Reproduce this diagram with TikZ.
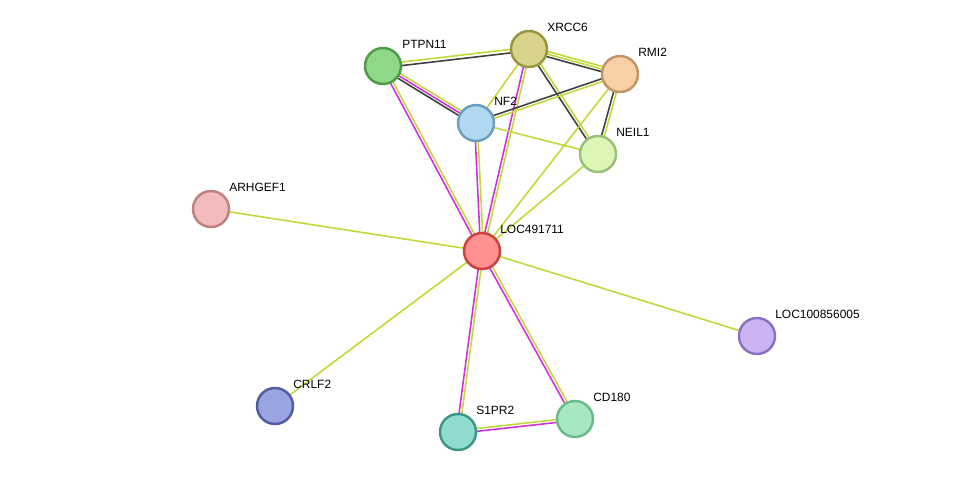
\documentclass[tikz,border=0pt]{standalone}
\usepackage{fontspec}
\setmainfont{Liberation Sans}
\usetikzlibrary{calc}
\definecolor{txtm}{HTML}{C0D838}
\definecolor{exper}{HTML}{D030D8}
\definecolor{coex}{HTML}{404040}
\definecolor{fPTPN11}{HTML}{8FD88A}\definecolor{dPTPN11}{HTML}{4F9A45}
\definecolor{fXRCC6}{HTML}{D8D38A}\definecolor{dXRCC6}{HTML}{99953E}
\definecolor{fRMI2}{HTML}{F9CFA5}\definecolor{dRMI2}{HTML}{C0956A}
\definecolor{fNF2}{HTML}{B0D8F2}\definecolor{dNF2}{HTML}{6D9CC0}
\definecolor{fNEIL1}{HTML}{DDF5B5}\definecolor{dNEIL1}{HTML}{99C07A}
\definecolor{fARHGEF1}{HTML}{F2BCBC}\definecolor{dARHGEF1}{HTML}{C08080}
\definecolor{fLOC491711}{HTML}{FF9090}\definecolor{dLOC491711}{HTML}{CC4040}
\definecolor{fLOC100856005}{HTML}{CCB4F2}\definecolor{dLOC100856005}{HTML}{8A70C0}
\definecolor{fCRLF2}{HTML}{9AA4E0}\definecolor{dCRLF2}{HTML}{525AA0}
\definecolor{fS1PR2}{HTML}{90DDD0}\definecolor{dS1PR2}{HTML}{3D958A}
\definecolor{fCD180}{HTML}{A8E8C0}\definecolor{dCD180}{HTML}{6CB98A}
\tikzset{
  prot/.style={circle, minimum size=36*0.02cm, inner sep=0pt, line width=1.4pt, fill=f#1, draw=d#1},
  lbl/.style={font=\fontsize{6.8}{8}\selectfont, anchor=south west, inner sep=0pt},
  edge/.style={line width=0.9pt}
}
% one strand of an edge, shifted sideways by #3
\newcommand{\strand}[4]{\draw[edge,#4] ($(#1)!#3!90:(#2)$) -- ($(#2)!#3!-90:(#1)$);}
\begin{document}
\begin{tikzpicture}[x=0.02cm,y=-0.02cm]
\useasboundingbox (0,0) rectangle (975,478);
% node positions
\coordinate (PTPN11) at (383,66);
\coordinate (XRCC6) at (529,49);
\coordinate (RMI2) at (620,74);
\coordinate (NF2) at (476,123);
\coordinate (NEIL1) at (598,154);
\coordinate (ARHGEF1) at (211,209);
\coordinate (LOC491711) at (482,251);
\coordinate (LOC100856005) at (757,336);
\coordinate (CRLF2) at (275,406);
\coordinate (S1PR2) at (458,432);
\coordinate (CD180) at (575,419);
% edges
\strand{PTPN11}{XRCC6}{-1pt}{coex}\strand{PTPN11}{XRCC6}{1pt}{txtm}
\strand{PTPN11}{NF2}{-1.5pt}{coex}\strand{PTPN11}{NF2}{0pt}{exper}\strand{PTPN11}{NF2}{1.5pt}{txtm}
\strand{PTPN11}{LOC491711}{-0.8pt}{exper}\strand{PTPN11}{LOC491711}{0.8pt}{txtm}
\strand{XRCC6}{RMI2}{-1.5pt}{coex}\strand{XRCC6}{RMI2}{0pt}{txtm}\strand{XRCC6}{RMI2}{1.5pt}{txtm}
\strand{XRCC6}{NEIL1}{-0.8pt}{coex}\strand{XRCC6}{NEIL1}{0.8pt}{txtm}
\strand{XRCC6}{NF2}{0pt}{txtm}
\strand{XRCC6}{LOC491711}{-0.8pt}{exper}\strand{XRCC6}{LOC491711}{0.8pt}{txtm}
\strand{RMI2}{NF2}{-0.8pt}{coex}\strand{RMI2}{NF2}{0.8pt}{txtm}
\strand{RMI2}{NEIL1}{-0.8pt}{coex}\strand{RMI2}{NEIL1}{0.8pt}{txtm}
\strand{RMI2}{LOC491711}{0pt}{txtm}
\strand{NF2}{NEIL1}{0pt}{txtm}
\strand{NF2}{LOC491711}{-0.8pt}{exper}\strand{NF2}{LOC491711}{0.8pt}{txtm}
\strand{NEIL1}{LOC491711}{0pt}{txtm}
\strand{ARHGEF1}{LOC491711}{0pt}{txtm}
\strand{LOC491711}{LOC100856005}{0pt}{txtm}
\strand{LOC491711}{CRLF2}{0pt}{txtm}
\strand{LOC491711}{S1PR2}{-0.8pt}{exper}\strand{LOC491711}{S1PR2}{0.8pt}{txtm}
\strand{LOC491711}{CD180}{-0.8pt}{exper}\strand{LOC491711}{CD180}{0.8pt}{txtm}
\strand{S1PR2}{CD180}{-0.8pt}{exper}\strand{S1PR2}{CD180}{0.8pt}{txtm}
% proteins
\foreach \p in {PTPN11,XRCC6,RMI2,NF2,NEIL1,ARHGEF1,LOC491711,LOC100856005,CRLF2,S1PR2,CD180}
  \node[prot=\p] (n\p) at (\p) {};
% labels
\node[lbl] at (402,49) {PTPN11};
\node[lbl] at (547,32) {XRCC6};
\node[lbl] at (638,57) {RMI2};
\node[lbl] at (494,106) {NF2};
\node[lbl] at (616,137) {NEIL1};
\node[lbl] at (229,192) {ARHGEF1};
\node[lbl] at (500,234) {LOC491711};
\node[lbl] at (775,319) {LOC100856005};
\node[lbl] at (293,389) {CRLF2};
\node[lbl] at (476,415) {S1PR2};
\node[lbl] at (593,402) {CD180};
\end{tikzpicture}
\end{document}
